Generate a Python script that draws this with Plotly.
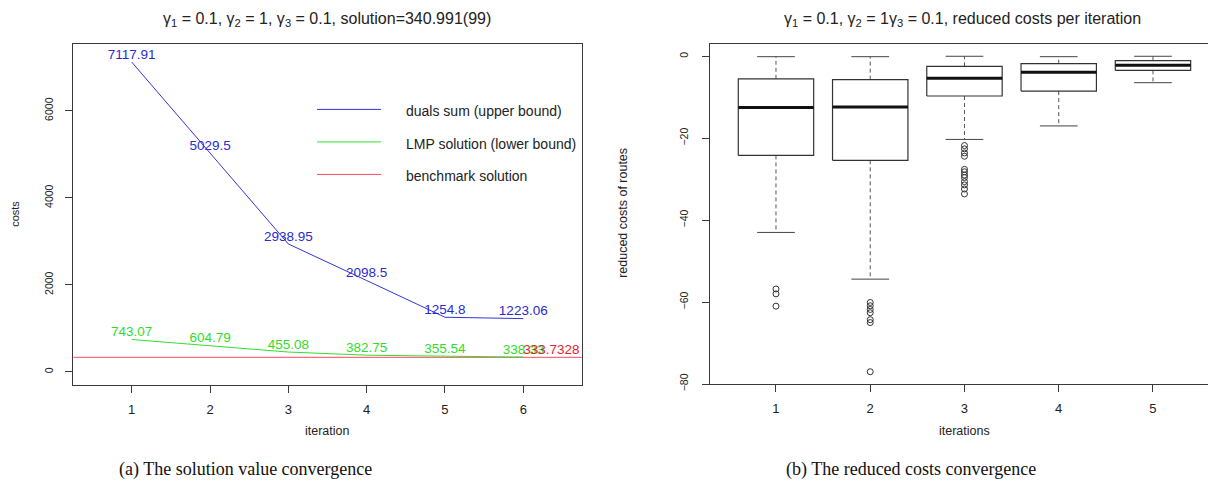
import plotly.graph_objects as go

W, H = 1208, 482

# ---------------- data: left chart ----------------
iterations = [1, 2, 3, 4, 5, 6]
duals_sum = [7117.91, 5029.5, 2938.95, 2098.5, 1254.8, 1223.06]
duals_labels = ["7117.91", "5029.5", "2938.95", "2098.5", "1254.8", "1223.06"]
lmp_solution = [743.07, 604.79, 455.08, 382.75, 355.54, 338.33]
lmp_labels = ["743.07", "604.79", "455.08", "382.75", "355.54", "338.33"]
benchmark_value = 333.7328
benchmark_label = "333.7328"
left_yticks = [0, 2000, 4000, 6000]
legend_names = ["duals sum (upper bound)", "LMP solution (lower bound)", "benchmark solution"]

# ---------------- data: right chart ----------------
box_iterations = [1, 2, 3, 4, 5]
box_q1 = [-24.2, -25.4, -9.7, -8.5, -3.45]
box_median = [-12.5, -12.4, -5.35, -3.9, -2.2]
box_q3 = [-5.5, -5.7, -2.45, -1.8, -1.05]
box_lower = [-43.0, -54.4, -20.3, -17.0, -6.45]
box_upper = [-0.1, -0.1, 0.0, -0.1, 0.0]
outlier_iter = [1, 1, 1,
                2, 2, 2, 2, 2, 2, 2,
                3, 3, 3, 3, 3, 3, 3, 3, 3, 3, 3, 3]
outlier_value = [-56.8, -58.0, -61.0,
                 -60.1, -60.9, -61.8, -62.6, -64.3, -65.0, -77.0,
                 -21.8, -22.6, -23.6, -24.4, -27.6, -28.2, -29.0, -29.6, -30.6, -31.4, -32.4, -33.6]
right_yticks = [0, -20, -40, -60, -80]

FONT = "Liberation Sans, Arial, sans-serif"
BLUE_LINE, BLUE_TXT = "#3434d6", "#2a2ad0"
GREEN_LINE, GREEN_TXT = "#2ee02e", "#2fdc2f"
RED_LINE, RED_TXT = "#ff4a5c", "#e8202f"
AX = "#3a3a3a"

def px(x):
    return x / W

def py(y):
    return 1 - y / H

fig = go.Figure()

# left chart traces
fig.add_trace(go.Scatter(x=[0.0, 7.0], y=[benchmark_value, benchmark_value], mode="lines",
                         line=dict(color=RED_LINE, width=1), xaxis="x", yaxis="y", showlegend=False,
                         hoverinfo="skip"))
fig.add_trace(go.Scatter(x=iterations, y=duals_sum, mode="lines+text", text=duals_labels,
                         textposition="top center", textfont=dict(color=BLUE_TXT, size=13.5, family=FONT),
                         line=dict(color=BLUE_LINE, width=1), xaxis="x", yaxis="y", showlegend=False))
fig.add_trace(go.Scatter(x=iterations, y=lmp_solution, mode="lines+text", text=lmp_labels,
                         textposition="top center", textfont=dict(color=GREEN_TXT, size=13.5, family=FONT),
                         line=dict(color=GREEN_LINE, width=1), xaxis="x", yaxis="y", showlegend=False))
fig.add_trace(go.Scatter(x=[iterations[-1]], y=[benchmark_value], mode="text", text=[benchmark_label],
                         textposition="top right", textfont=dict(color=RED_TXT, size=13.5, family=FONT),
                         xaxis="x", yaxis="y", showlegend=False))

# right chart: boxplots drawn from the summary arrays
bw, sw = 0.4, 0.2
bx, by, mx, my, wx, wy, sx, sy = [], [], [], [], [], [], [], []
for i, q1, md, q3, lo, hi in zip(box_iterations, box_q1, box_median, box_q3, box_lower, box_upper):
    bx += [i - bw, i + bw, i + bw, i - bw, i - bw, None]
    by += [q1, q1, q3, q3, q1, None]
    mx += [i - bw, i + bw, None]
    my += [md, md, None]
    wx += [i, i, None, i, i, None]
    wy += [q3, hi, None, q1, lo, None]
    sx += [i - sw, i + sw, None, i - sw, i + sw, None]
    sy += [hi, hi, None, lo, lo, None]

fig.add_trace(go.Scatter(x=wx, y=wy, mode="lines", line=dict(color="#555", width=1, dash="4px,3px"),
                         xaxis="x2", yaxis="y2", showlegend=False, hoverinfo="skip"))
fig.add_trace(go.Scatter(x=sx, y=sy, mode="lines", line=dict(color="#444", width=1),
                         xaxis="x2", yaxis="y2", showlegend=False, hoverinfo="skip"))
fig.add_trace(go.Scatter(x=bx, y=by, mode="lines", line=dict(color="#333", width=1.2),
                         fill="toself", fillcolor="white",
                         xaxis="x2", yaxis="y2", showlegend=False, hoverinfo="skip"))
fig.add_trace(go.Scatter(x=mx, y=my, mode="lines", line=dict(color="#111", width=3),
                         xaxis="x2", yaxis="y2", showlegend=False, hoverinfo="skip"))
fig.add_trace(go.Scatter(x=outlier_iter, y=outlier_value, mode="markers",
                         marker=dict(symbol="circle-open", size=6, color="#333", line=dict(width=1)),
                         xaxis="x2", yaxis="y2", showlegend=False))

# geometry (pixels)
L1, R1, T1, B1 = 73.3, 581.7, 44.3, 390.7
L2, R2, T2, B2 = 710.0, 1208.0, 44.3, 390.0

axis_common = dict(showgrid=False, zeroline=False, showline=True, linecolor=AX, linewidth=1,
                   ticks="outside", ticklen=7, tickcolor=AX)
xfont = dict(family=FONT, size=13, color="#222")
yfont = dict(family=FONT, size=10.5, color="#222")

fig.update_layout(
    width=W, height=H, margin=dict(l=0, r=0, t=0, b=0),
    paper_bgcolor="white", plot_bgcolor="white",
    xaxis=dict(domain=[px(L1), px(R1)], range=[0.254, 6.746], tickvals=iterations,
               mirror=True, anchor="y", tickfont=xfont, ticklabelstandoff=5, **axis_common),
    yaxis=dict(domain=[py(B1), py(T1)], range=[-303, 7542], tickvals=left_yticks,
               tickangle=-90, mirror=True, anchor="x", ticklabelstandoff=8, tickfont=yfont, **axis_common),
    xaxis2=dict(domain=[px(L2), px(R2)], range=[0.3, 0.3 + (R2 - L2) / 94.25], tickvals=box_iterations,
                mirror=True, anchor="y2", tickfont=xfont, ticklabelstandoff=5, **axis_common),
    yaxis2=dict(domain=[py(B2), py(T2)], range=[-80.08, 3.08], tickvals=right_yticks,
                tickangle=-90, anchor="x2", ticklabelstandoff=10, tickfont=yfont, **axis_common),
)

ann = []
def text(x, y, s, size=11, angle=0, family=FONT, color="#222", xanchor="center"):
    ann.append(dict(x=px(x), y=py(y), xref="paper", yref="paper", text=s, showarrow=False,
                    font=dict(family=family, size=size, color=color), textangle=angle,
                    xanchor=xanchor, yanchor="middle"))

# titles
text(327, 20, "γ<sub>1</sub> = 0.1, γ<sub>2</sub> = 1, γ<sub>3</sub> = 0.1, solution=340.991(99)", size=16)
text(962, 20, "γ<sub>1</sub> = 0.1, γ<sub>2</sub> = 1γ<sub>3</sub> = 0.1, reduced costs per iteration", size=16)
# axis titles
text(327, 437, "iteration", size=12.5)
text(15, 217, "costs", size=11, angle=-90)
text(964, 437, "iterations", size=12.5)
text(623, 216, "reduced costs of routes", size=12.5, angle=-90)
# legend
leg_colors = [BLUE_LINE, GREEN_LINE, RED_LINE]
leg_y = [111, 144, 177]
shapes = []
for name, c, yy in zip(legend_names, leg_colors, leg_y):
    shapes.append(dict(type="line", xref="paper", yref="paper", x0=px(317), x1=px(381),
                       y0=py(yy), y1=py(yy), line=dict(color=c, width=1)))
    text(404, yy + 2, name, size=14, xanchor="left")
# captions
text(245, 476, "(a) The solution value convergence", size=18, family="Liberation Serif, serif", color="#111")
text(911, 476, "(b) The reduced costs convergence", size=18, family="Liberation Serif, serif", color="#111")

fig.update_layout(annotations=ann, shapes=shapes)
fig.write_html("out.html")
